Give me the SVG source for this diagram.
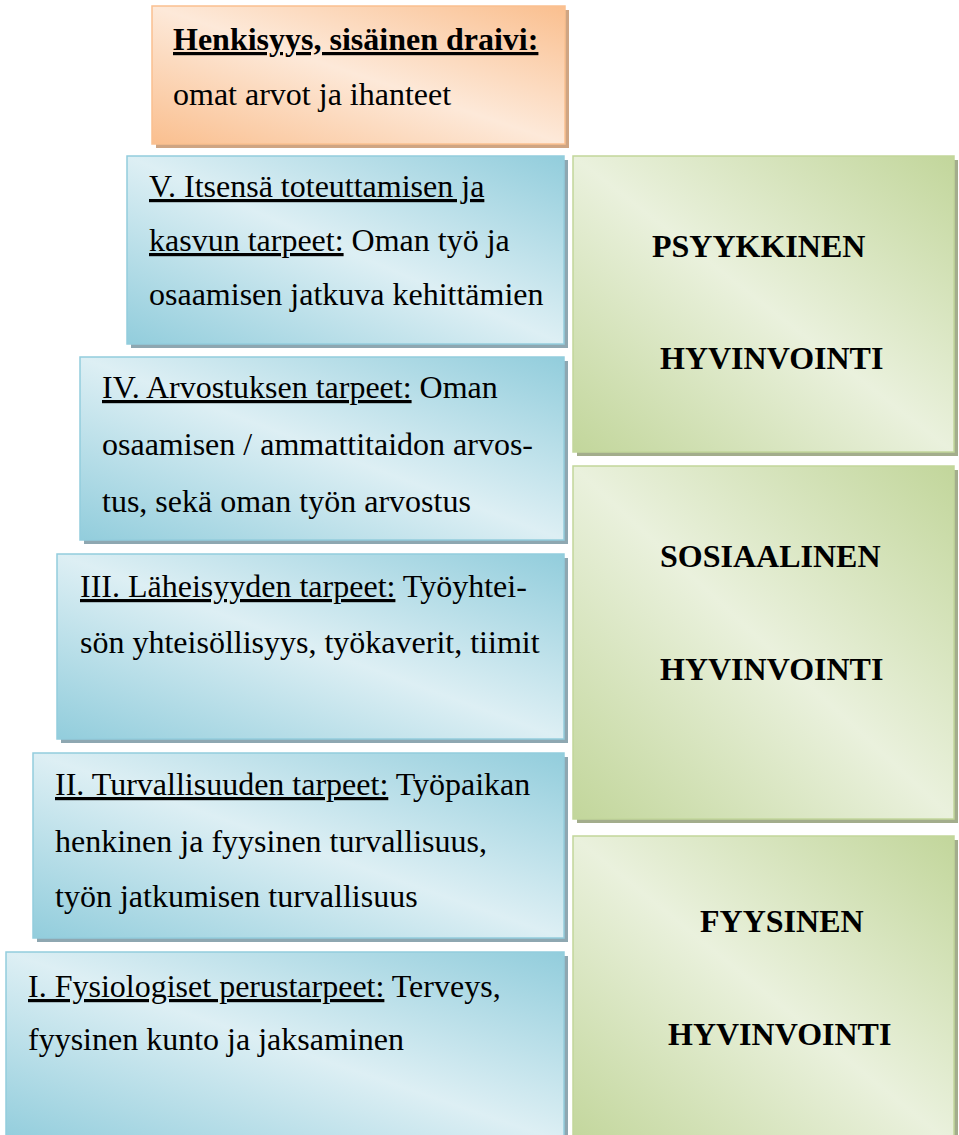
<svg xmlns="http://www.w3.org/2000/svg" width="959" height="1135" viewBox="0 0 959 1135">
<defs>
<linearGradient id="gBlue" x1="1" y1="0" x2="0" y2="1">
<stop offset="0" stop-color="#92CDDC"/>
<stop offset="0.5" stop-color="#DDEFF4"/>
<stop offset="1" stop-color="#92CDDC"/>
</linearGradient>
<linearGradient id="gOrange" x1="1" y1="0" x2="0" y2="1">
<stop offset="0" stop-color="#FABF8F"/>
<stop offset="0.5" stop-color="#FDE9D9"/>
<stop offset="1" stop-color="#FABF8F"/>
</linearGradient>
<linearGradient id="gGreen" x1="1" y1="0" x2="0" y2="1">
<stop offset="0" stop-color="#C2D69B"/>
<stop offset="0.5" stop-color="#EAF1DD"/>
<stop offset="1" stop-color="#C2D69B"/>
</linearGradient>
</defs>
<style>
.sb{fill:#8EA7B1}
.so{fill:#CFA583}
.sg{fill:#A3AD8C}
.bb{fill:url(#gBlue);stroke:#93CDDD;stroke-width:1.5}
.bo{fill:url(#gOrange);stroke:#FAC090;stroke-width:1.5}
.bg{fill:url(#gGreen);stroke:#C2D69B;stroke-width:1.5}
text{font-family:"Liberation Serif","Times New Roman",serif;font-size:32px;fill:#000}
.b{font-weight:bold}
.u{text-decoration:underline}
</style>
<rect width="959" height="1135" fill="#fff"/>
<g id="henkisyys">
<rect class="so" x="156" y="10" width="413" height="138"/>
<rect class="bo" x="152" y="6" width="413" height="138"/>
<text x="173" y="50" class="b"><tspan class="u">Henkisyys, sisäinen draivi:</tspan></text>
<text x="173" y="105">omat arvot ja ihanteet</text>
</g>
<g id="taso5">
<rect class="sb" x="131" y="160" width="437" height="188"/>
<rect class="bb" x="127" y="156" width="437" height="188"/>
<text x="149" y="197"><tspan class="u">V. Itsensä toteuttamisen ja</tspan></text>
<text x="149" y="251"><tspan class="u">kasvun tarpeet:</tspan> Oman työ ja</text>
<text x="149" y="305">osaamisen jatkuva kehittämien</text>
</g>
<g id="taso4">
<rect class="sb" x="84" y="361" width="484" height="183"/>
<rect class="bb" x="80" y="357" width="484" height="183"/>
<text x="102" y="398"><tspan class="u">IV. Arvostuksen tarpeet:</tspan> Oman</text>
<text x="102" y="455">osaamisen / ammattitaidon arvos-</text>
<text x="102" y="512">tus, sekä oman työn arvostus</text>
</g>
<g id="taso3">
<rect class="sb" x="61" y="558" width="507" height="185"/>
<rect class="bb" x="57" y="554" width="507" height="185"/>
<text x="80" y="597"><tspan class="u">III. Läheisyyden tarpeet:</tspan> Työyhtei-</text>
<text x="80" y="653">sön yhteisöllisyys, työkaverit, tiimit</text>
</g>
<g id="taso2">
<rect class="sb" x="37" y="757" width="531" height="185"/>
<rect class="bb" x="33" y="753" width="531" height="185"/>
<text x="55" y="795"><tspan class="u">II. Turvallisuuden tarpeet:</tspan> Työpaikan</text>
<text x="55" y="852">henkinen ja fyysinen turvallisuus,</text>
<text x="55" y="907">työn jatkumisen turvallisuus</text>
</g>
<g id="taso1">
<rect class="sb" x="10" y="956" width="558" height="190"/>
<rect class="bb" x="6" y="952" width="558" height="190"/>
<text x="28" y="997"><tspan class="u">I. Fysiologiset perustarpeet:</tspan> Terveys,</text>
<text x="28" y="1050">fyysinen kunto ja jaksaminen</text>
</g>
<g id="psyykkinen">
<rect class="sg" x="577" y="160" width="381" height="296"/>
<rect class="bg" x="573" y="156" width="381" height="296"/>
<text x="652" y="257" class="b">PSYYKKINEN</text>
<text x="660" y="369" class="b">HYVINVOINTI</text>
</g>
<g id="sosiaalinen">
<rect class="sg" x="577" y="470" width="381" height="353"/>
<rect class="bg" x="573" y="466" width="381" height="353"/>
<text x="660" y="567" class="b">SOSIAALINEN</text>
<text x="660" y="680" class="b">HYVINVOINTI</text>
</g>
<g id="fyysinen">
<rect class="sg" x="577" y="840" width="381" height="310"/>
<rect class="bg" x="573" y="836" width="381" height="310"/>
<text x="700" y="932" class="b">FYYSINEN</text>
<text x="668" y="1045" class="b">HYVINVOINTI</text>
</g>
<g id="connectors"/>
</svg>
